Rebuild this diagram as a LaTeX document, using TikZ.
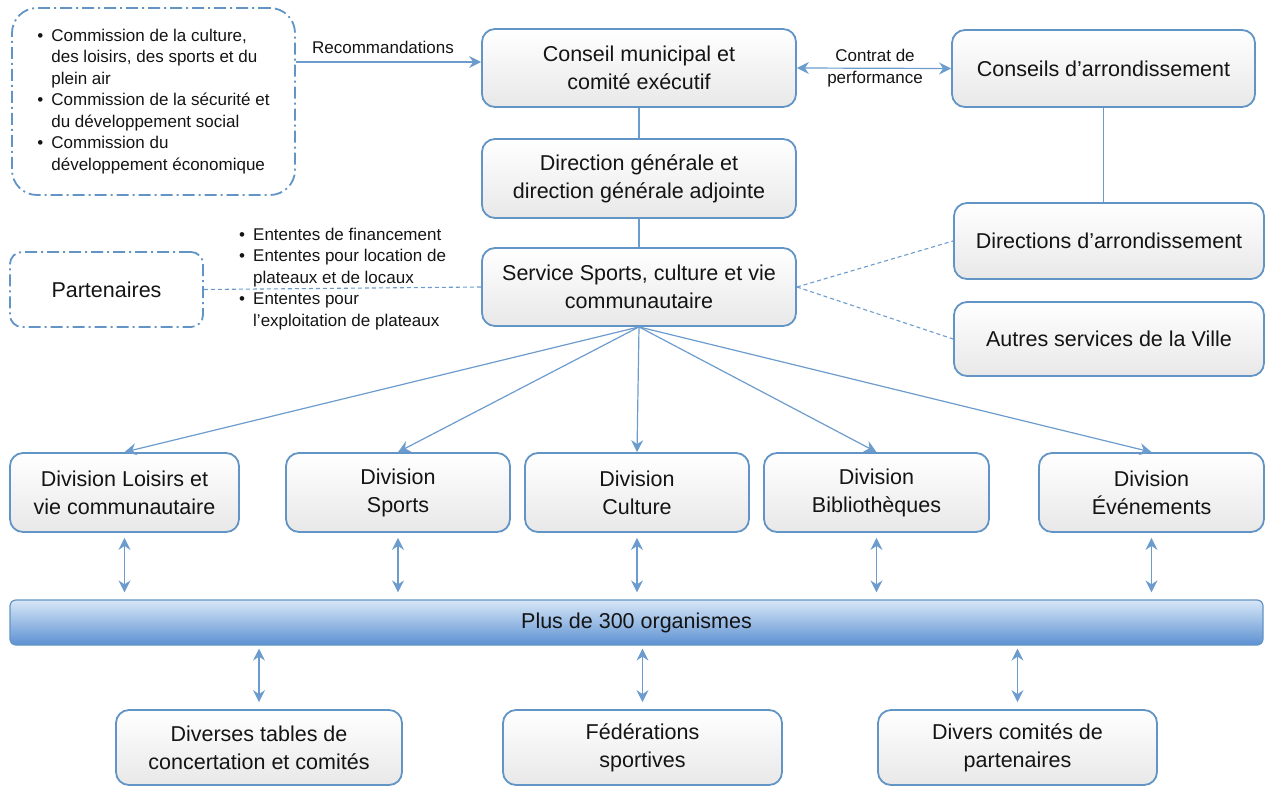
\documentclass[tikz,border=0pt]{standalone}
\usepackage{fontspec}
\setmainfont{Liberation Sans}
\usetikzlibrary{arrows.meta,calc}
\definecolor{bord}{RGB}{98,148,198}
\definecolor{lien}{RGB}{108,156,205}
\definecolor{txt}{RGB}{20,20,20}
\definecolor{bartop}{RGB}{216,231,247}
\definecolor{barbot}{RGB}{92,145,210}
\newcommand\mybigf{\fontsize{21.5}{28}\selectfont}
\newcommand\mysmallf{\fontsize{17}{21.5}\selectfont}
\begin{document}
\begin{tikzpicture}[x=1pt,y=-1pt,
  box/.style={draw=bord, line width=1.8pt, rounded corners=13pt, top color=white, bottom color=black!9,
    text=txt, align=center, font=\mybigf, inner sep=0pt},
  ddbox/.style={draw=bord, line width=1.8pt, dash pattern=on 12pt off 4pt on 2pt off 4pt,
    text=txt, align=center, inner sep=0pt},
  conn/.style={draw=lien, line width=1.2pt},
  dconn/.style={draw=lien, line width=1.1pt, dash pattern=on 4pt off 3pt},
  tip/.style={-{Stealth[length=12pt,width=12pt,inset=4pt]}},
  dtip/.style={{Stealth[length=12pt,width=12pt,inset=4pt]}-{Stealth[length=12pt,width=12pt,inset=4pt]}},
  lbl/.style={text=txt, font=\mysmallf, align=center, inner sep=0pt}
]
\useasboundingbox (0,0) rectangle (1265,787);

% top left commissions
\node[ddbox, rounded corners=25pt, minimum width=283pt, minimum height=187pt, font=\mysmallf] (comm) at (153.5,101.5)
 {\begin{tabular}{@{}p{14pt}@{}l@{}}
 \textbullet & Commission de la culture,\\
  & des loisirs, des sports et du\\
  & plein air\\
 \textbullet & Commission de la sécurité et\\
  & du développement social\\
 \textbullet & Commission du\\
  & développement économique
 \end{tabular}};

\node[box, minimum width=314pt, minimum height=78pt] (conseil) at (639,68) {Conseil municipal et\\comité exécutif};
\node[box, minimum width=303pt, minimum height=77pt] (conseils) at (1103.5,68.5) {Conseils d’arrondissement};
\node[box, minimum width=314pt, minimum height=79pt] (direction) at (639,178.5) {Direction générale et\\direction générale adjointe};
\node[box, minimum width=314pt, minimum height=78pt] (service) at (639,287) {Service Sports, culture et vie\\communautaire};
\node[box, minimum width=310pt, minimum height=76pt] (directions) at (1109,241) {Directions d’arrondissement};
\node[box, minimum width=310pt, minimum height=74pt] (autres) at (1109,339) {Autres services de la Ville};
\node[ddbox, rounded corners=12pt, minimum width=193pt, minimum height=75pt, font=\mybigf] (part) at (106.5,289.5) {Partenaires};

\node[lbl, anchor=south] (reco) at (383,54) {Recommandations};
\node[lbl] (contrat) at (875,68) {Contrat de\\performance};
\node[lbl, anchor=west, align=left] (ententes) at (239,279)
 {\begin{tabular}{@{}p{14pt}@{}l@{}}
 \textbullet & Ententes de financement\\
 \textbullet & Ententes pour location de\\
  & plateaux et de locaux\\
 \textbullet & Ententes pour\\
  & l’exploitation de plateaux
 \end{tabular}};

% divisions
\node[box, minimum width=229pt, minimum height=79pt] (d1) at (124.5,492.5) {Division Loisirs et\\vie communautaire};
\node[box, minimum width=224pt, minimum height=79pt] (d2) at (398,492.5) {Division\\Sports};
\node[box, minimum width=224pt, minimum height=79pt] (d3) at (637,492.5) {Division\\Culture};
\node[box, minimum width=225pt, minimum height=79pt] (d4) at (876.5,492.5) {Division\\Bibliothèques};
\node[box, minimum width=225pt, minimum height=79pt] (d5) at (1151.5,492.5) {Division\\Événements};

% bar
\node[draw=bord, line width=1.2pt, rounded corners=6pt, top color=bartop, bottom color=barbot,
  minimum width=1253pt, minimum height=45pt, inner sep=0pt, text=txt, font=\mybigf] (bar) at (636.5,622.5) {Plus de 300 organismes};

% bottom boxes
\node[box, minimum width=286pt, minimum height=75pt] (b1) at (259,747.5) {Diverses tables de\\concertation et comités};
\node[box, minimum width=279pt, minimum height=75pt] (b2) at (642.5,747.5) {Fédérations\\sportives};
\node[box, minimum width=279pt, minimum height=75pt] (b3) at (1017.5,747.5) {Divers comités de\\partenaires};

% connectors
\draw[conn, tip] (comm.east |- 0,62) -- (conseil.west |- 0,62);
\draw[conn, dtip] (conseil.east) -- (conseils.west);
\draw[conn] (conseil.south) -- (direction.north);
\draw[conn] (direction.south) -- (service.north);
\draw[conn] (conseils.south) -- (conseils.south |- directions.north);
\draw[dconn] (service.east) -- (directions.west);
\draw[dconn] (service.east) -- (autres.west);
\draw[dconn] (part.east) -- (service.west);

\foreach \d in {d1,d2,d3,d4,d5}{
  \draw[conn, tip] (service.south) -- (\d.north);
  \draw[conn, dtip, shorten <=5pt, shorten >=7pt] (\d.south) -- (\d.south |- bar.north);
}
\foreach \b in {b1,b2,b3}{
  \draw[conn, dtip, shorten <=3pt, shorten >=7pt] (bar.south -| \b.north) -- (\b.north);
}
\end{tikzpicture}
\end{document}
